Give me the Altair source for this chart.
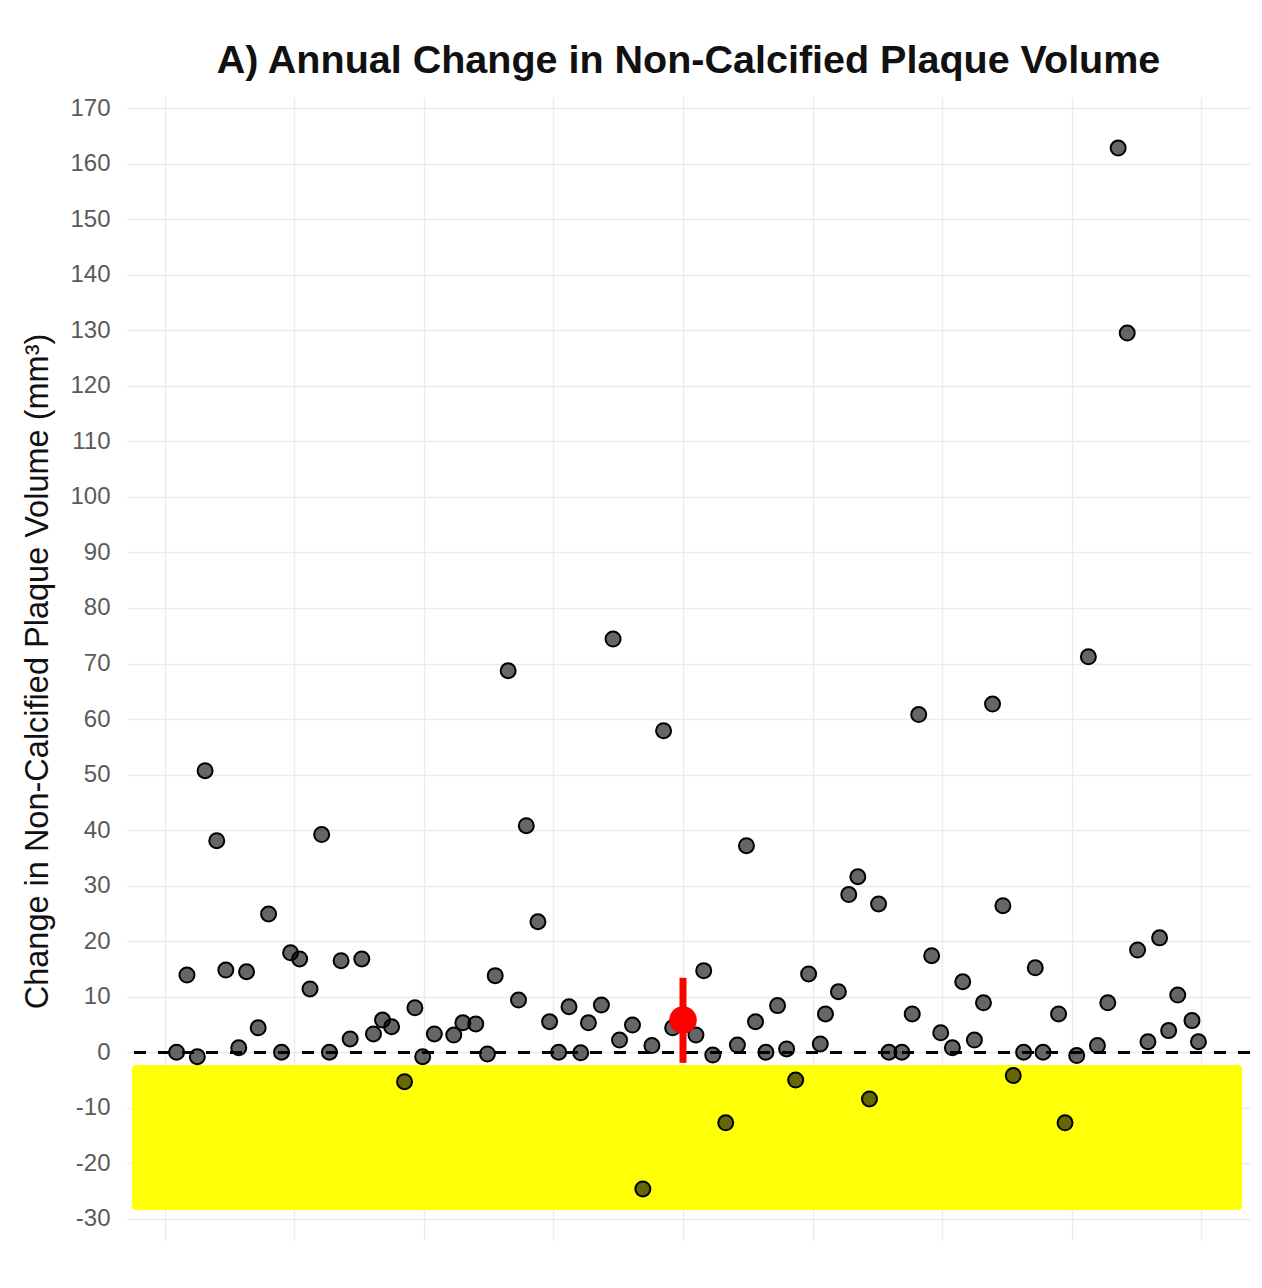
import altair as alt
import pandas as pd

# ---- data ----
jitter_x = [0.609, 0.617, 0.625, 0.631, 0.640, 0.647, 0.657, 0.663, 0.672, 0.680,
            0.690, 0.697, 0.704, 0.712, 0.721, 0.727, 0.736, 0.743, 0.752, 0.761,
            0.768, 0.775, 0.785, 0.793, 0.799, 0.808, 0.823, 0.830, 0.840, 0.849,
            0.855, 0.865, 0.873, 0.879, 0.888, 0.897, 0.904, 0.912, 0.921, 0.927,
            0.937, 0.946, 0.951, 0.961, 0.969, 0.976, 0.985, 0.992, 1.010, 1.016,
            1.023, 1.033, 1.042, 1.049, 1.056, 1.064, 1.073, 1.080, 1.087, 1.097,
            1.106, 1.110, 1.120, 1.128, 1.135, 1.144, 1.151, 1.159, 1.169, 1.177,
            1.182, 1.192, 1.199, 1.208, 1.216, 1.225, 1.232, 1.239, 1.247, 1.255,
            1.263, 1.272, 1.278, 1.290, 1.295, 1.304, 1.313, 1.320, 1.328, 1.336,
            1.343, 1.351, 1.359, 1.368, 1.375, 1.382, 1.393, 1.398]
change = [0, 13.9, -0.8, 50.7, 38.1, 14.8, 0.8, 14.5, 4.4, 24.9,
          0, 17.9, 16.8, 11.4, 39.2, 0, 16.5, 2.4, 16.8, 3.3,
          5.8, 4.6, -5.3, 8.0, -0.8, 3.3, 3.1, 5.3, 5.1, -0.3,
          13.8, 68.7, 9.4, 40.8, 23.5, 5.5, 0, 8.2, -0.1, 5.3,
          8.5, 74.4, 2.2, 4.9, -24.6, 1.2, 57.9, 4.4, 3.1, 14.7,
          -0.5, -12.7, 1.3, 37.2, 5.5, 0, 8.4, 0.6, -5.0, 14.1,
          1.5, 6.9, 10.9, 28.4, 31.6, -8.4, 26.7, 0, 0, 6.9,
          60.8, 17.4, 3.5, 0.8, 12.7, 2.2, 8.9, 62.7, 26.4, -4.2,
          0, 15.2, 0, 6.9, -12.7, -0.6, 71.2, 1.2, 8.9, 162.8,
          129.5, 18.4, 1.9, 20.6, 3.9, 10.3, 5.7, 1.9]

summary_x = [1.0]
summary_mean = [5.8]
summary_low = [-1.9]
summary_high = [13.4]

band_x = [0.5745]
band_x2 = [1.4317]
band_y = [-2.3]
band_y2 = [-28.4]

x_grid = [0.6, 0.7, 0.8, 0.9, 1.0, 1.1, 1.2, 1.3, 1.4]
y_ticks = list(range(-30, 171, 5))

FONT = "Liberation Sans"

pts = pd.DataFrame({"x": jitter_x, "y": change})
summ = pd.DataFrame({"x": summary_x, "m": summary_mean, "lo": summary_low, "hi": summary_high})
band = pd.DataFrame({"x": band_x, "x2": band_x2, "y": band_y, "y2": band_y2})

xscale = alt.Scale(domain=[0.5707, 1.4378], nice=False, zero=False)
yscale = alt.Scale(domain=[-33.8, 172.0], nice=False, zero=False)

xaxis = alt.Axis(values=x_grid, labels=False, ticks=False, domain=False, title="",
                 grid=True, gridColor="#ebebeb", gridWidth=1.4)
yaxis = alt.Axis(values=y_ticks, ticks=False, domain=False,
                 labelExpr="datum.value % 10 == 0 ? replace(datum.label, '\u2212', '-') : ''",
                 labelFont=FONT, labelFontSize=24, labelColor="#5a5a5a", labelPadding=17,
                 title="Change in Non-Calcified Plaque Volume (mm³)",
                 titleFont=FONT, titleFontSize=32.5, titleFontWeight="normal", titleColor="#111111",
                 titleBaseline="alphabetic", titleX=-80, titleY=574,
                 grid=True, gridColor="#ebebeb",
                 gridWidth={"condition": {"test": "datum.value % 10 == 0", "value": 1.6}, "value": 1.1})

base_x = alt.X("x:Q", scale=xscale, axis=xaxis)
base_y = alt.Y("y:Q", scale=yscale, axis=yaxis)

rect = alt.Chart(band).mark_rect(color="#ffff00", opacity=0.97, cornerRadius=4).encode(
    x=base_x, x2="x2:Q", y=base_y, y2="y2:Q")

zero = alt.Chart(pts).mark_rule(color="black", strokeWidth=2.5, strokeDash=[12, 12]).encode(
    y=alt.datum(0, scale=yscale))

points = alt.Chart(pts).mark_point(filled=False, shape="circle", size=225, fill="black",
                                   fillOpacity=0.6, stroke="black", strokeWidth=2,
                                   opacity=1).encode(x=base_x, y=base_y)

err = alt.Chart(summ).mark_rule(color="#ff0000", strokeWidth=7).encode(
    x=alt.X("x:Q", scale=xscale), y=alt.Y("lo:Q", scale=yscale), y2="hi:Q")

mean_pt = alt.Chart(summ).mark_point(filled=True, shape="circle", size=760, color="#ff0000",
                                     opacity=1).encode(
    x=alt.X("x:Q", scale=xscale), y=alt.Y("m:Q", scale=yscale))

chart = alt.layer(rect, zero, points, err, mean_pt).properties(
    width=1123, height=1143,
    title=alt.TitleParams("A) Annual Change in Non-Calcified Plaque Volume",
                          font=FONT, fontSize=39.5, fontWeight="bold", color="#111111",
                          anchor="middle", baseline="alphabetic", offset=-16),
    autosize=alt.AutoSizeParams(type="none"),
    padding={"left": 119, "top": 89, "right": 4, "bottom": 40},
).configure(background="white").configure_view(stroke="transparent")

chart.save("out.html", embed_options={"renderer": "svg", "actions": False})
